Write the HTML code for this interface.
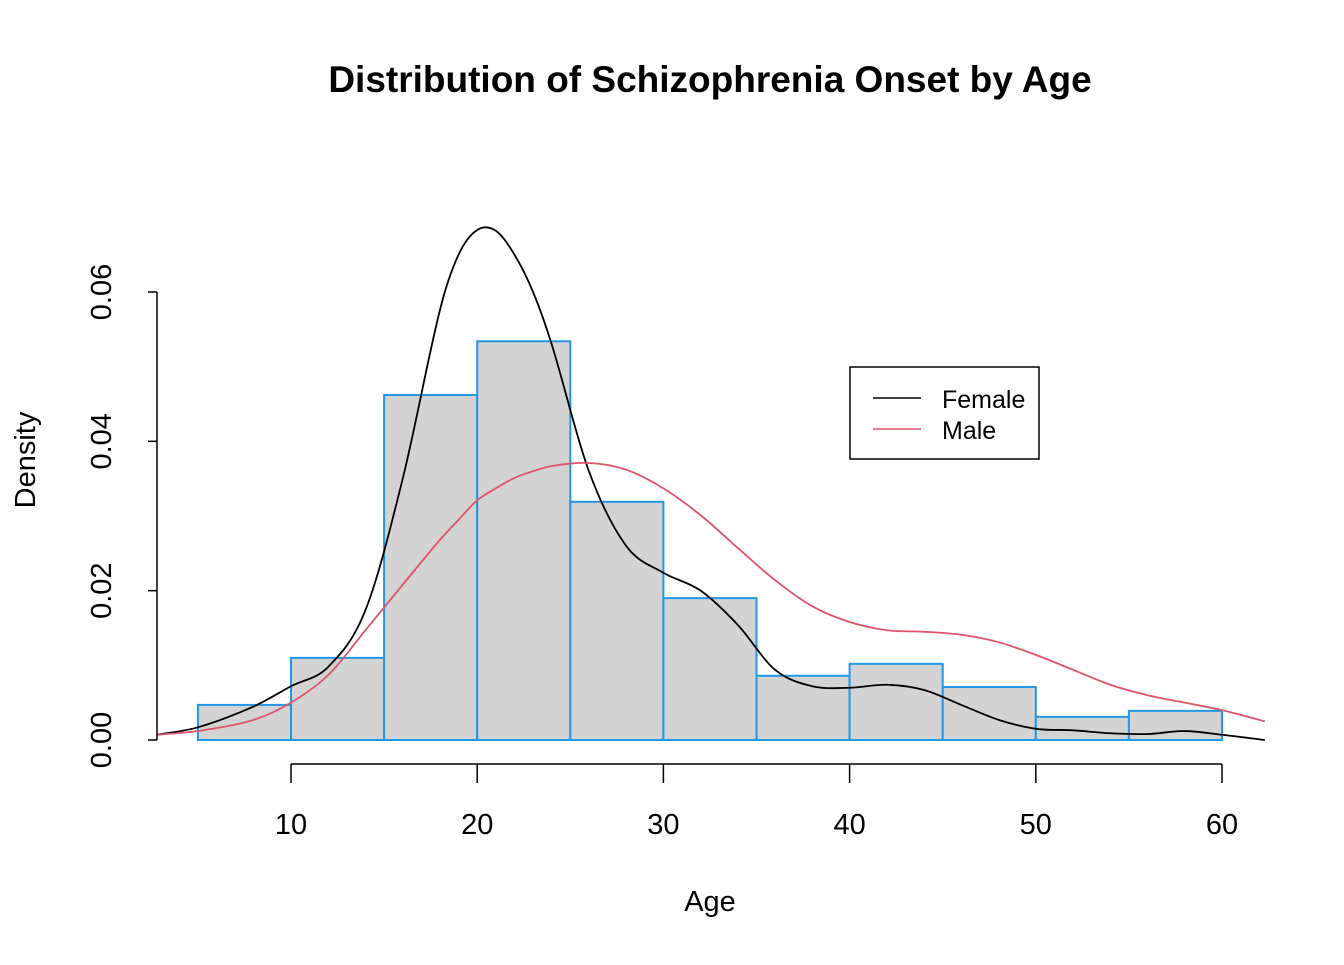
<!DOCTYPE html>
<html><head><meta charset="utf-8"><style>
body{margin:0;background:#fff}
svg text{font-family:"Liberation Sans",Arial,sans-serif}
</style></head><body>
<svg id="chart" width="1344" height="960" xmlns="http://www.w3.org/2000/svg">
<rect width="1344" height="960" fill="#fff"/>
<text x="710" y="92" text-anchor="middle" font-size="37" font-weight="bold">Distribution of Schizophrenia Onset by Age</text>
<text x="710" y="911" text-anchor="middle" font-size="29">Age</text>
<text transform="translate(35,460) rotate(-90)" text-anchor="middle" font-size="29">Density</text>
<g id="bars"></g><g id="curves"></g><g id="axes"></g>
<g>
<rect x="850" y="367" width="189" height="92" fill="#fff" stroke="#000" stroke-width="1.5"/>
<line x1="873" y1="398" x2="921" y2="398" stroke="#000" stroke-width="1.5"/>
<text x="942" y="408" font-size="25">Female</text>
<line x1="873" y1="429" x2="921" y2="429" stroke="#DF536B" stroke-width="1.5"/>
<text x="942" y="439" font-size="25">Male</text>
</g>
</svg>
<script>
const binStarts=[5,10,15,20,25,30,35,40,45,50,55];
const binDensities=[0.0047,0.011,0.0462,0.0534,0.0319,0.019,0.0086,0.0102,0.0071,0.0031,0.0039];
const curveAges=[2.8,5,8,10,12,14,16,18,19,20,21,22,23,24,26,28,30,32,34,36,38,40,42,44,46,48,50,52,54,56,58,60,62.3];
const femaleDensity=[0.0007,0.0017,0.0045,0.0072,0.0098,0.0174,0.035,0.0576,0.065,0.0683,0.0682,0.065,0.060,0.053,0.036,0.026,0.0224,0.020,0.0154,0.0094,0.0072,0.0070,0.0074,0.0067,0.0047,0.0027,0.0015,0.0013,0.0009,0.0008,0.0012,0.0007,0.0];
const maleDensity=[0.0007,0.0012,0.0027,0.005,0.0087,0.0147,0.0208,0.0268,0.0295,0.0321,0.0337,0.0351,0.036,0.0367,0.0371,0.0362,0.0337,0.0301,0.0257,0.0214,0.0179,0.0158,0.0147,0.0145,0.0141,0.0131,0.0114,0.0094,0.0074,0.006,0.005,0.004,0.0025];
const xTicks=[10,20,30,40,50,60];
const yTicks=[0,0.02,0.04,0.06];
const yTickLabels=["0.00","0.02","0.04","0.06"];
const binWidth=5;
const NS="http://www.w3.org/2000/svg";
const X=v=>291+(v-10)*18.62;
const Y=v=>740-v*7467;
function mk(tag,attrs,parent){const e=document.createElementNS(NS,tag);for(const k in attrs)e.setAttribute(k,attrs[k]);document.getElementById(parent).appendChild(e);return e;}
binStarts.forEach((s,i)=>{
 const r=mk('rect',{x:X(s),y:Y(binDensities[i]),width:X(s+binWidth)-X(s),height:Y(0)-Y(binDensities[i]),fill:'#D3D3D3',stroke:'#2297E6','stroke-width':2},'bars');
 
 
});
function smooth(xs,ys){
 const p=xs.map((a,i)=>[X(a),Y(ys[i])]);
 const n=p.length,m=[];
 for(let i=0;i<n;i++){
  const a=p[Math.max(0,i-1)],b=p[Math.min(n-1,i+1)];
  m.push((b[1]-a[1])/(b[0]-a[0]));
 }
 let d=`M${p[0][0]},${p[0][1]}`;
 for(let i=0;i<n-1;i++){
  const h=(p[i+1][0]-p[i][0])/3;
  d+=` C${p[i][0]+h},${p[i][1]+m[i]*h} ${p[i+1][0]-h},${p[i+1][1]-m[i+1]*h} ${p[i+1][0]},${p[i+1][1]}`;
 }
 return d;
}
const f=mk('path',{d:smooth(curveAges,femaleDensity),fill:'none',stroke:'#000','stroke-width':1.8},'curves');


const m=mk('path',{d:smooth(curveAges,maleDensity),fill:'none',stroke:'#DF536B','stroke-width':1.8},'curves');


const xa=mk('line',{x1:X(xTicks[0]),x2:X(xTicks[xTicks.length-1]),y1:764,y2:764,stroke:'#000','stroke-width':1.5},'axes');


xTicks.forEach(t=>{
 mk('line',{x1:X(t),x2:X(t),y1:764,y2:783,stroke:'#000','stroke-width':1.5},'axes');
 const tx=mk('text',{x:X(t),y:834,'text-anchor':'middle','font-size':29},'axes');
 tx.textContent=t;
 
 
});
const ya=mk('line',{x1:157,x2:157,y1:Y(yTicks[yTicks.length-1]),y2:Y(yTicks[0]),stroke:'#000','stroke-width':1.5},'axes');


yTicks.forEach((t,i)=>{
 mk('line',{x1:148,x2:157,y1:Y(t),y2:Y(t),stroke:'#000','stroke-width':1.5},'axes');
 const tx=mk('text',{transform:`translate(111,${Y(t)}) rotate(-90)`,'text-anchor':'middle','font-size':29},'axes');
 tx.textContent=yTickLabels[i];
 
 
});
</script>
</body></html>
